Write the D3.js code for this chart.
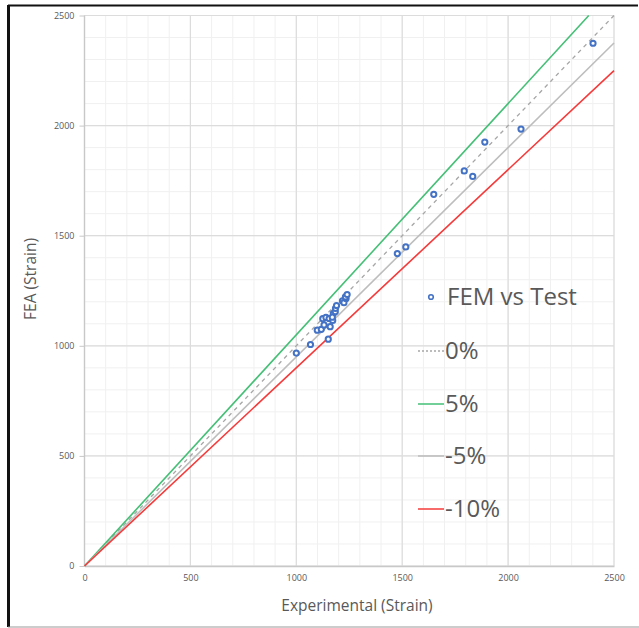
<!DOCTYPE html>
<html lang="en">
<head>
<meta charset="utf-8">
<title>FEA vs Experimental</title>
<script src="https://cdn.jsdelivr.net/npm/d3@7"></script>
<style>
  body { margin: 0; background: #fff; }
  svg { display: block; font-family: "Open Sans", sans-serif; }
</style>
</head>
<body>
<div id="chart"></div>
<script>
// measured points (experimental, FEA)
var testStrain = [1000, 1067, 1151, 1099, 1118, 1131, 1160, 1125, 1140, 1155, 1172, 1175, 1170, 1184, 1185, 1190, 1218, 1225, 1235, 1232, 1240,
                  1477, 1517, 1649, 1793, 1833, 1890, 2061, 2401];
var feaStrain  = [967, 1006, 1030, 1071, 1075, 1095, 1087, 1123, 1129, 1124, 1115, 1147, 1130, 1155, 1170, 1183, 1204, 1196, 1215, 1222, 1233,
                  1419, 1449, 1688, 1794, 1769, 1925, 1984, 2374];

// reference lines y = k * x
var refNames  = ["0%", "5%", "-5%", "-10%"];
var refSlopes = [1.00, 1.05, 0.95, 0.90];
var refColors = ["#a6a6a6", "#45bf76", "#bdbdbd", "#f43a3a"];
var refDash   = ["4,4", null, null, null];

var ticks = [0, 500, 1000, 1500, 2000, 2500];

var w = 639, h = 628;
var x0 = 84.5, x1 = 614, y0 = 566, y1 = 15.5;

var svg = d3.select("#chart").append("svg").attr("width", w).attr("height", h);

var xScale = d3.scaleLinear().domain([0, 2500]).range([x0, x1]);
var yScale = d3.scaleLinear().domain([0, 2500]).range([y0, y1]);

// frame of the screenshot
svg.append("line").attr("x1", 8).attr("x2", 638).attr("y1", 5.5).attr("y2", 5.5)
  .attr("stroke", "#111").attr("stroke-width", 2);
svg.append("line").attr("x1", 8.5).attr("x2", 8.5).attr("y1", 5).attr("y2", 627)
  .attr("stroke", "#111").attr("stroke-width", 3);
svg.append("line").attr("x1", 8).attr("x2", 639).attr("y1", 627).attr("y2", 627)
  .attr("stroke", "#999").attr("stroke-width", 1);

// minor grid
var minor = d3.range(0, 2501, 100);
svg.append("g").selectAll("line").data(minor).enter().append("line")
  .attr("x1", function(d) { return xScale(d); }).attr("x2", function(d) { return xScale(d); })
  .attr("y1", y0).attr("y2", y1)
  .attr("stroke", "#f0f0f0").attr("stroke-width", 1);
svg.append("g").selectAll("line").data(minor).enter().append("line")
  .attr("y1", function(d) { return yScale(d); }).attr("y2", function(d) { return yScale(d); })
  .attr("x1", x0).attr("x2", x1)
  .attr("stroke", "#f0f0f0").attr("stroke-width", 1);

// major grid
svg.append("g").selectAll("line").data(ticks).enter().append("line")
  .attr("x1", function(d) { return xScale(d); }).attr("x2", function(d) { return xScale(d); })
  .attr("y1", y0).attr("y2", y1)
  .attr("stroke", "#dcdcdc").attr("stroke-width", 1.2);
svg.append("g").selectAll("line").data(ticks).enter().append("line")
  .attr("y1", function(d) { return yScale(d); }).attr("y2", function(d) { return yScale(d); })
  .attr("x1", x0).attr("x2", x1)
  .attr("stroke", "#dcdcdc").attr("stroke-width", 1.2);

// axes
var xAxis = d3.axisBottom(xScale).tickValues(ticks).tickFormat(d3.format("d")).tickSize(0).tickPadding(9);
var yAxis = d3.axisLeft(yScale).tickValues(ticks).tickFormat(d3.format("d")).tickSize(5).tickPadding(5);

var gx = svg.append("g").attr("transform", "translate(0," + y0 + ")").call(xAxis);
var gy = svg.append("g").attr("transform", "translate(" + x0 + ",0)").call(yAxis);
[gx, gy].forEach(function(g) {
  g.select(".domain").attr("stroke", "#c8c8c8").attr("stroke-width", 1.3);
  g.selectAll(".tick line").attr("stroke", "#c8c8c8");
  g.selectAll(".tick text").attr("fill", "#595959").attr("font-size", 9)
    .attr("font-family", "'Open Sans', sans-serif");
});
gy.select(".domain").attr("d", "M0," + y0 + "V" + y1);

// reference lines
var refs = refSlopes.map(function(k, i) {
  var xe = Math.min(2500, 2500 / k);
  return { name: refNames[i], pts: [[0, 0], [xe, k * xe]], color: refColors[i], dash: refDash[i] };
});
var line = d3.line().x(function(d) { return xScale(d[0]); }).y(function(d) { return yScale(d[1]); });
svg.append("g").selectAll("path").data(refs).enter().append("path")
  .attr("d", function(d) { return line(d.pts); })
  .attr("fill", "none")
  .attr("stroke", function(d) { return d.color; })
  .attr("stroke-width", function(d) { return d.dash ? 1.3 : 1.6; })
  .attr("stroke-dasharray", function(d) { return d.dash; });

// points
svg.append("g").selectAll("circle").data(testStrain).enter().append("circle")
  .attr("cx", function(d) { return xScale(d); })
  .attr("cy", function(d, i) { return yScale(feaStrain[i]); })
  .attr("r", 2.6)
  .attr("fill", "#fff")
  .attr("stroke", "#4472c4")
  .attr("stroke-width", 2);

// axis titles
svg.append("text").attr("x", 357).attr("y", 611).attr("text-anchor", "middle")
  .attr("font-size", 15.5).attr("fill", "#595959").text("Experimental (Strain)");
svg.append("text").attr("transform", "translate(36,279) rotate(-90)").attr("text-anchor", "middle")
  .attr("font-size", 15.5).attr("fill", "#595959").text("FEA (Strain)");

// legend
var legend = svg.append("g");
legend.append("circle").attr("cx", 431).attr("cy", 297).attr("r", 2.3)
  .attr("fill", "#fff").attr("stroke", "#4472c4").attr("stroke-width", 1.6);
legend.append("text").attr("x", 447).attr("y", 305).attr("font-size", 24).attr("fill", "#595959")
  .text("FEM vs Test");
var legY = [351, 404, 456, 509];
refs.forEach(function(r, i) {
  legend.append("line").attr("x1", 418).attr("x2", 444).attr("y1", legY[i]).attr("y2", legY[i])
    .attr("stroke", r.color).attr("stroke-width", 1.5).attr("stroke-dasharray", r.dash ? "2,2" : null);
  legend.append("text").attr("x", 445).attr("y", legY[i] + 8).attr("font-size", 24).attr("fill", "#595959")
    .text(r.name);
});
</script>
</body>
</html>
